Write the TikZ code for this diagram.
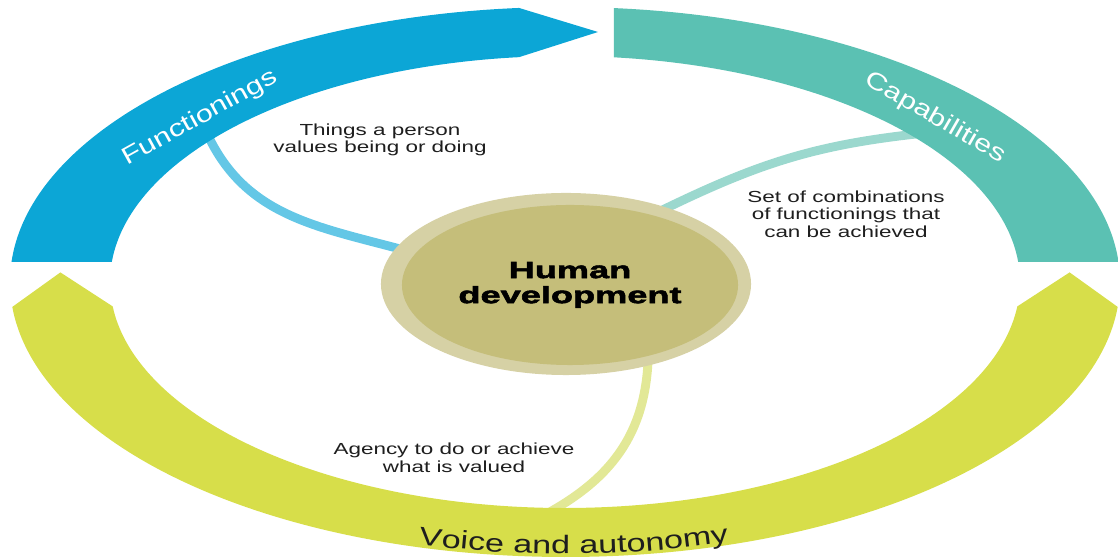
\documentclass[tikz,border=0pt]{standalone}
\usepackage{fontspec}
\setmainfont{Liberation Sans}
\newfontfamily\notefont[FakeStretch=1.4]{Liberation Sans}
\newfontfamily\hubfont[FakeStretch=1.55,FakeBold=2.5]{Liberation Sans Bold}
\newfontfamily\bandfont[FakeStretch=1.28]{Liberation Sans}
\newfontfamily\voicefont[FakeStretch=1.35]{Liberation Sans}
\usetikzlibrary{calc, shapes.geometric, positioning, backgrounds, decorations.text}

\definecolor{funblue}{RGB}{12,166,214}
\definecolor{capteal}{RGB}{91,193,179}
\definecolor{voiyel}{RGB}{215,222,74}
\definecolor{funline}{RGB}{100,199,230}
\definecolor{capline}{RGB}{155,216,206}
\definecolor{voiline}{RGB}{226,232,150}
\definecolor{hubout}{RGB}{214,209,165}
\definecolor{hubin}{RGB}{197,190,122}
\definecolor{txt}{RGB}{30,30,30}

\begin{document}
\begin{tikzpicture}[x=0.025cm, y=0.025cm,
      ring/.style={ellipse, fill=hubout, minimum width=9.25cm, minimum height=4.55cm},
      core/.style={ellipse, fill=hubin, minimum width=8.4cm, minimum height=4cm, align=center,
        font=\hubfont\fontsize{16.6}{17.8}\selectfont},
      note/.style={align=center, text=txt, font=\notefont\fontsize{11.4}{12.5}\selectfont},
      tag/.style={text=white, font=\bandfont\fontsize{17}{20}\selectfont},
      spoke/.style={line width=6.3pt, shorten >=-6pt, shorten <=-6pt}]
      \useasboundingbox (0,0) rectangle (1118,558);
      \coordinate (o) at (565,276);

      % the three bands
      \fill[funblue] ($(o)+(174.92:455 and 226)$) -- ($(o)+(175.83:555 and 275)$)
        arc[start angle=175.83, end angle=94.75, x radius=555, y radius=275]
        -- (598,526) -- ($(o)+(95.8:455 and 226)$)
        arc[start angle=95.8, end angle=174.92, x radius=455, y radius=226] -- cycle;
      \fill[capteal] ($(o)+(83.82:455 and 226)$) -- ($(o)+(84.94:555 and 275)$)
        arc[start angle=84.94, end angle=4.17, x radius=555, y radius=275]
        -- ($(o)+(5.08:455 and 226)$)
        arc[start angle=5.08, end angle=83.82, x radius=455, y radius=226] -- cycle;
      \fill[voiyel] ($(o)+(2.2:505 and 250)$) -- ($(o)+(-5.2:555 and 275)$)
        arc[start angle=-5.2, end angle=-174.8, x radius=555, y radius=275]
        -- ($(o)+(177.8:505 and 250)$) -- ($(o)+(-173.8:455 and 226)$)
        arc[start angle=-173.8, end angle=-6.2, x radius=455, y radius=226] -- cycle;

      \node[tag, rotate=29] (fun) at (200,440) {Functionings};
      \node[tag, rotate=-30] (cap) at (935,440) {Capabilities};
      \path[decorate, decoration={text along path, text align=center, text color=txt,
        text={|\voicefont\fontsize{18}{20}\selectfont|Voice and autonomy}}]
        ($(o)+(-117:549 and 272)$) arc[start angle=-117, end angle=-61, x radius=549, y radius=272];

      % centre
      \draw node[ring] (hub0) at (566,274) {};
      \draw node[core] (hub) at (570,273) {Human\\development};

      \coordinate (f1) at (209,420);
      \coordinate (c1) at (916,424);
      \coordinate (v1) at (550,46);
      \begin{scope}[on background layer]
        \draw[spoke, funline] (f1) to[out=-66, in=165] (hub0.168);
        \draw[spoke, capline] (c1) to[out=186, in=26] (hub0.37);
        \draw[spoke, voiline] (hub0.-45) to[out=-92, in=28] (v1);
      \end{scope}

      \node[note] (f2) at (380,418) {Things a person\\values being or doing};
      \node[note] (c2) at (846,344) {Set of combinations\\of functionings that\\can be achieved};
      \node[note] (v2) at (454,100) {Agency to do or achieve\\what is valued};
\end{tikzpicture}
\end{document}
